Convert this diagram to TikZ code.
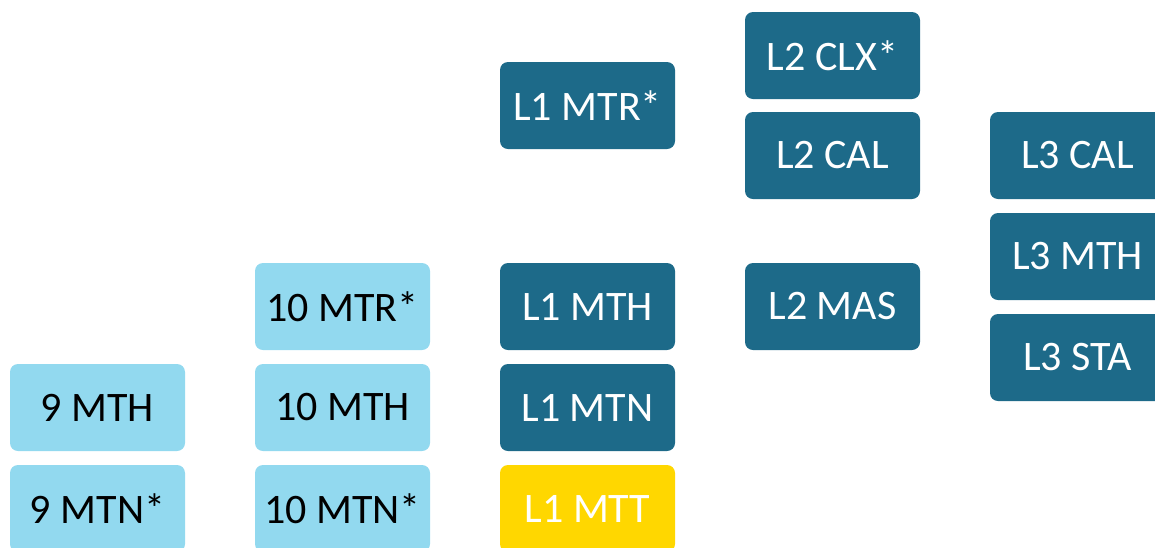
\documentclass[tikz,border=0pt]{standalone}
\usepackage{fontspec}
\setmainfont{Carlito}
\definecolor{lightcourse}{RGB}{146,217,239}
\definecolor{darkcourse}{RGB}{29,106,137}
\definecolor{yellowcourse}{RGB}{255,215,0}
\tikzset{
    course/.style={rounded corners=8pt, minimum width=175pt, minimum height=87pt,
        inner sep=0pt, font=\fontsize{42}{50}\selectfont},
    junior/.style={course, fill=lightcourse, text=black},
    senior/.style={course, fill=darkcourse, text=white},
    taster/.style={course, fill=yellowcourse, text=white}
}
\begin{document}
\begin{tikzpicture}[x=1pt,y=-1pt]
                \useasboundingbox (0,0) rectangle (1155,547);
                % year 9 and 10
                \node[junior] (nineMTH) at (97.5,407.5) {9 MTH};
                \node[junior] (nineMTN) at (97.5,508.5) {9 MTN*};
                \node[junior] (tenMTR) at (342.5,306.5) {10 MTR*};
                \node[junior] (tenMTH) at (342.5,407.5) {10 MTH};
                \node[junior] (tenMTN) at (342.5,508.5) {10 MTN*};
                % level 1
                \node[senior] (oneMTR) at (587.5,105.5) {L1 MTR*};
                \node[senior] (oneMTH) at (587.5,306.5) {L1 MTH};
                \node[senior] (oneMTN) at (587.5,407.5) {L1 MTN};
                \node[taster] (oneMTT) at (587.5,508.5) {L1 MTT};
                % level 2
                \node[senior] (twoCLX) at (832.5,55.5) {L2 CLX*};
                \node[senior] (twoCAL) at (832.5,155.5) {L2 CAL};
                \node[senior] (twoMAS) at (832.5,306.5) {L2 MAS};
                % level 3
                \node[senior] (threeCAL) at (1077.5,155.5) {L3 CAL};
                \node[senior] (threeMTH) at (1077.5,256.5) {L3 MTH};
                \node[senior] (threeSTA) at (1077.5,357.5) {L3 STA};
\end{tikzpicture}
\end{document}
